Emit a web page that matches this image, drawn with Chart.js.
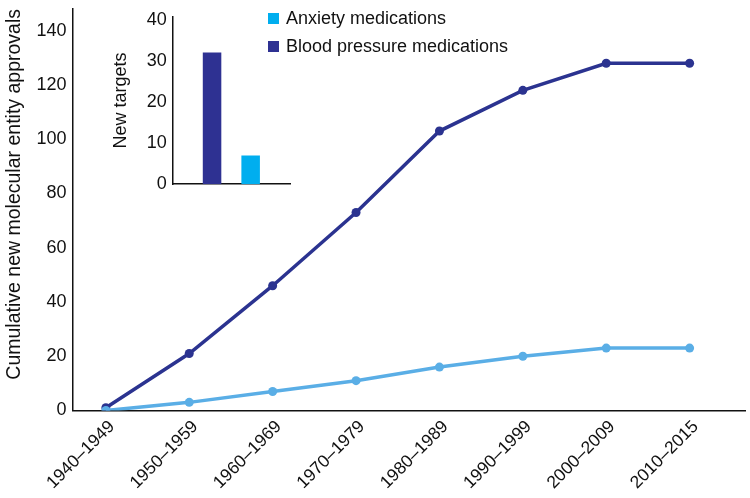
<!DOCTYPE html>
<html>
<head>
<meta charset="utf-8">
<script src="https://cdn.jsdelivr.net/npm/chart.js@4/dist/chart.umd.min.js"></script>
<style>
  body { margin: 0; background: #fff; }
  #wrap { position: relative; width: 750px; height: 498px; }
  #main { position: absolute; left: 0; top: 0; }
  #inset { position: absolute; left: 110px; top: 0; }
  .leg { position: absolute; left: 268px; font: 18px "Liberation Sans", Arial, sans-serif; color: #111; white-space: nowrap; }
  .leg span { display: inline-block; width: 11px; height: 11px; margin-right: 7px; vertical-align: 0px; }
</style>
</head>
<body>
<div id="wrap">
  <canvas id="main" width="750" height="498"></canvas>
  <canvas id="inset" width="190" height="201"></canvas>
  <div class="leg" style="top:8px"><span style="background:#00aeef"></span>Anxiety medications</div>
  <div class="leg" style="top:36px"><span style="background:#2e3192"></span>Blood pressure medications</div>
</div>
<script>
// Données du graphique principal
var V_decades = ['1940–1949', '1950–1959', '1960–1969', '1970–1979', '1980–1989', '1990–1999', '2000–2009', '2010–2015'];
var V_bloodPressure = [1, 21, 46, 73, 103, 118, 128, 128];
var V_anxiety = [0, 3, 7, 11, 16, 20, 23, 23];
var V_mainTicks = [0, 20, 40, 60, 80, 100, 120, 140];

// Données de l'encart
var V_insetLabels = ['Blood pressure medications', 'Anxiety medications'];
var V_newTargets = [32, 7];
var V_insetTicks = [0, 10, 20, 30, 40];

var S_font = '"Liberation Sans", Arial, sans-serif';
Chart.defaults.font.family = S_font;
Chart.defaults.color = '#111';

function F_points(V_list){
    return V_list.map(function(v, i){ return {x: i, y: v}; });
}

function F_fixTicks(V_list){
    return function(scale){
        scale.ticks = V_list.map(function(v){ return {value: v}; });
    };
}

var O_ctx_main = document.getElementById('main').getContext('2d');
var O_main = new Chart(O_ctx_main, {
    type: 'line',
    data: {
        datasets: [
            {
                label: 'Anxiety medications',
                data: F_points(V_anxiety),
                borderColor: '#5aaee6',
                backgroundColor: '#5aaee6',
                borderWidth: 3.5,
                pointRadius: 4.5,
                pointBorderWidth: 0
            },
            {
                label: 'Blood pressure medications',
                data: F_points(V_bloodPressure),
                borderColor: '#2b3390',
                backgroundColor: '#2b3390',
                borderWidth: 3.5,
                pointRadius: 4.5,
                pointBorderWidth: 0
            }
        ]
    },
    options: {
        responsive: false,
        animation: false,
        layout: { padding: { top: 0, right: 0, left: 0, bottom: 0 } },
        plugins: { legend: { display: false }, tooltip: { enabled: false } },
        scales: {
            x: {
                type: 'linear',
                min: -0.4,
                max: 7.67,
                afterBuildTicks: F_fixTicks(V_decades.map(function(l, i){ return i; })),
                afterFit: function(scale){ scale.height = 87.5; },
                grid: { display: false, drawTicks: false },
                border: { color: '#111', width: 1.5 },
                ticks: {
                    autoSkip: false,
                    maxRotation: 45,
                    minRotation: 45,
                    padding: 6,
                    labelOffset: 6,
                    font: { size: 17.5 },
                    callback: function(v){ return V_decades[v]; }
                }
            },
            y: {
                min: 0,
                max: 148,
                afterBuildTicks: F_fixTicks(V_mainTicks),
                afterFit: function(scale){ scale.width = 72.5; },
                grid: { display: false, drawTicks: false },
                border: { color: '#111', width: 1.5 },
                ticks: { padding: 6, font: { size: 18, lineHeight: 0.33 } },
                title: {
                    display: true,
                    text: 'Cumulative new molecular entity approvals',
                    align: 'end',
                    font: { size: 19.5 },
                    padding: { top: 3, bottom: 0 }
                }
            }
        }
    }
});

// Encart : nouvelles cibles
var O_ctx_inset = document.getElementById('inset').getContext('2d');
var O_inset = new Chart(O_ctx_inset, {
    type: 'bar',
    data: {
        labels: [''],
        datasets: [
            { label: V_insetLabels[0], data: [V_newTargets[0]], backgroundColor: '#2e3192' },
            { label: V_insetLabels[1], data: [V_newTargets[1]], backgroundColor: '#00aeef' }
        ]
    },
    options: {
        responsive: false,
        animation: false,
        layout: { padding: { top: 15, right: 10, left: 0, bottom: 0 } },
        plugins: { legend: { display: false }, tooltip: { enabled: false } },
        datasets: { bar: { categoryPercentage: 0.658, barPercentage: 0.48 } },
        scales: {
            x: {
                afterFit: function(scale){ scale.height = 12; },
                grid: { display: false, drawTicks: false },
                border: { color: '#111', width: 1.5 },
                ticks: { display: false }
            },
            y: {
                min: 0,
                max: 40.7,
                afterBuildTicks: F_fixTicks(V_insetTicks),
                afterFit: function(scale){ scale.width = 62.7; },
                grid: { display: false, drawTicks: false },
                border: { color: '#111', width: 1.5 },
                ticks: { padding: 6, font: { size: 18 } },
                title: {
                    display: true,
                    text: 'New targets',
                    font: { size: 18 },
                    padding: { top: 0, bottom: 0 }
                }
            }
        }
    }
});
</script>
</body>
</html>
